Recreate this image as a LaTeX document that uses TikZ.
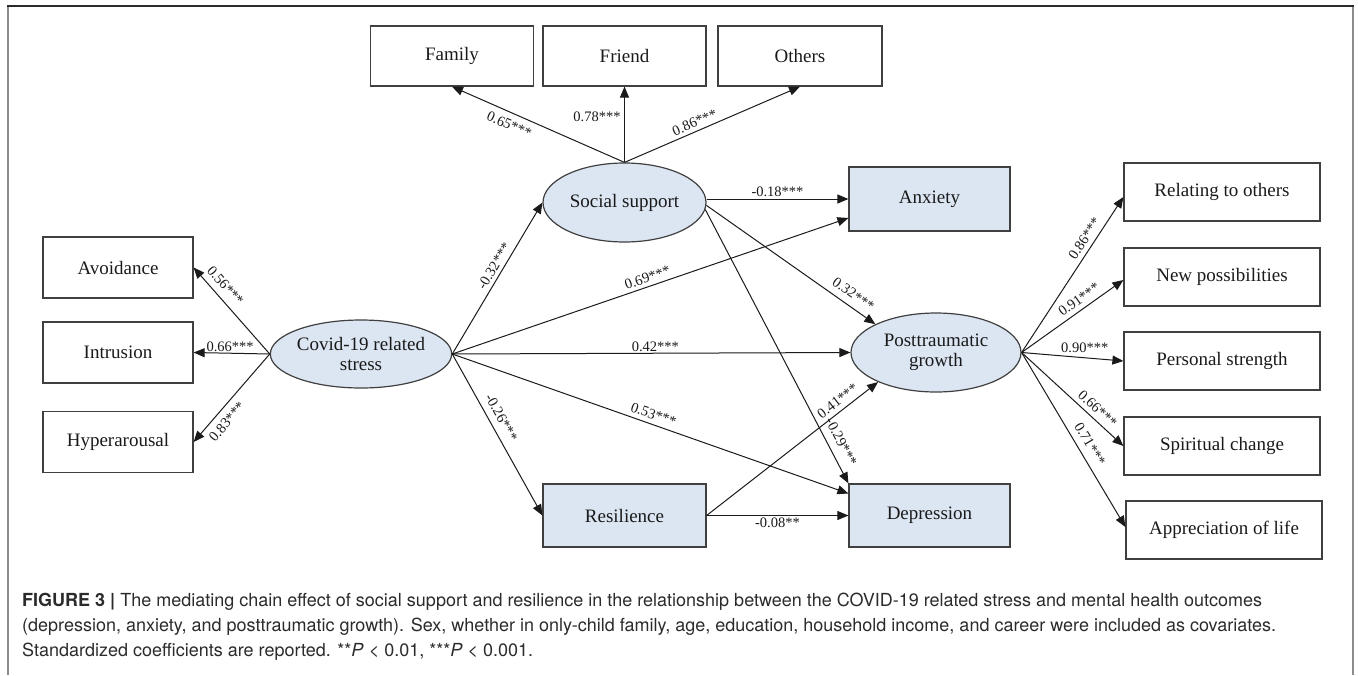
\documentclass[tikz,border=0pt]{standalone}
\usepackage{fontspec}
\setmainfont{Liberation Serif}
\newfontfamily\capfont{TeX Gyre Heros}
\usetikzlibrary{arrows.meta,shapes.geometric}
\definecolor{boxblue}{HTML}{DCE6F3}
\definecolor{ink}{HTML}{1A1A1A}
\definecolor{boxline}{HTML}{404040}
\definecolor{capgray}{HTML}{2B2B2B}
\definecolor{framegray}{HTML}{8C8C8C}
\begin{document}
\begin{tikzpicture}[x=1pt,y=-1pt,
  obs/.style={rectangle,draw=boxline,line width=1.2pt,inner sep=0pt,
    font=\fontsize{19}{22}\selectfont,text=ink},
  lat/.style={ellipse,draw=boxline,line width=1.2pt,fill=boxblue,inner sep=0pt,
    align=center,font=\fontsize{19}{22}\selectfont,text=ink},
  arr/.style={-{Triangle[length=11pt,width=9pt]},line width=1pt,draw=ink},
  coef/.style={font=\fontsize{14.5}{16}\selectfont,text=ink,inner sep=1.5pt}]
\useasboundingbox (0,0) rectangle (1358,675);
% frame
\draw[framegray,line width=2.2pt] (8,6) -- (8,675);
\draw[framegray,line width=2.2pt] (1353,6) -- (1353,675);
\draw[capgray,line width=1.6pt] (7,6) -- (1354,6);

% top indicator boxes
\node[obs,minimum width=163,minimum height=60] (family) at (452,56) {Family};
\node[obs,minimum width=163,minimum height=60] (friend) at (624.5,56) {Friend};
\node[obs,minimum width=164,minimum height=60] (others) at (800,56) {Others};

% latent
\node[lat,minimum width=163,minimum height=79] (social) at (624.5,202.5) {Social support};
\node[lat,minimum width=172,minimum height=68] (covid) at (361,354) {Covid-19 related\\[-2pt]stress};
\node[lat,minimum width=170,minimum height=79] (ptg) at (936,352.5) {Posttraumatic\\[-2pt]growth};

% left boxes
\node[obs,minimum width=150,minimum height=61] (avoid) at (118,267.5) {Avoidance};
\node[obs,minimum width=150,minimum height=61] (intru) at (118,352.5) {Intrusion};
\node[obs,minimum width=150,minimum height=61] (hyper) at (118,442) {Hyperarousal};

% mediators / outcomes
\node[obs,fill=boxblue,minimum width=161,minimum height=64] (anx) at (929.5,199) {Anxiety};
\node[obs,fill=boxblue,minimum width=163,minimum height=63] (resil) at (624.5,515.5) {Resilience};
\node[obs,fill=boxblue,minimum width=161,minimum height=63] (depr) at (929.5,515.5) {Depression};

% right boxes
\node[obs,minimum width=196,minimum height=58] (rel) at (1222,192) {Relating to others};
\node[obs,minimum width=196,minimum height=58] (newp) at (1222,277) {New possibilities};
\node[obs,minimum width=196,minimum height=58] (pers) at (1222,361) {Personal strength};
\node[obs,minimum width=196,minimum height=58] (spir) at (1222,446) {Spiritual change};
\node[obs,minimum width=196,minimum height=58] (appr) at (1224,530) {Appreciation of life};

% social support indicators
\draw[arr] (social.north) -- node[coef,pos=0.64,sloped,below=5pt] {0.65***} (family.south);
\draw[arr] (social.north) -- node[coef,pos=0.6,left=2pt] {0.78***} (friend.south);
\draw[arr] (social.north) -- node[coef,pos=0.42,sloped,above=2pt] {0.86***} (others.south);

% covid indicators
\draw[arr] (covid.west) -- node[coef,pos=0.7,sloped,above=5pt] {0.56***} (avoid.east);
\draw[arr] (covid.west) -- node[coef,pos=0.52,above] {0.66***} (intru.east);
\draw[arr] (covid.west) -- node[coef,pos=0.68,sloped,below=5pt] {0.83***} (hyper.east);

% covid paths
\draw[arr] (covid.east) -- node[coef,pos=0.55,sloped,above=2pt] {-0.32***} (social.west);
\draw[arr] (covid.east) -- node[coef,pos=0.5,sloped,above=2pt] {0.69***} ([yshift=-19pt]anx.west);
\draw[arr] (covid.east) -- node[coef,pos=0.51,above] {0.42***} (ptg.west);
\draw[arr] (covid.east) -- node[coef,pos=0.5,sloped,above=3pt] {0.53***} ([yshift=22pt]depr.west);
\draw[arr] (covid.east) -- node[coef,pos=0.43,sloped,above=5pt] {-0.26***} (resil.west);

% social paths
\draw[arr] (social.east |- anx.west) -- node[coef,pos=0.5,above] {-0.18***} (anx.west);
\draw[arr] (social.-2) -- node[coef,pos=0.83,sloped,above=5pt] {0.32***} (ptg.155);
\draw[arr] (social.-5) -- node[coef,pos=0.87,sloped,above=6pt] {-0.29***} (depr.north west);

% resilience paths
\draw[arr] (resil.east) -- node[coef,pos=0.8,sloped,above=3pt] {0.41***} (ptg.207);
\draw[arr] (resil.east) -- node[coef,pos=0.5,below] {-0.08**} (depr.west);

% PTG indicators
\draw[arr] (ptg.east) -- node[coef,pos=0.7,sloped,above=3pt] {0.86***} ([yshift=-5pt]rel.west);
\draw[arr] (ptg.east) -- node[coef,pos=0.62,sloped,above=3pt] {0.91***} ([yshift=-3pt]newp.west);
\draw[arr] (ptg.east) -- node[coef,pos=0.62,above=3pt] {0.90***} (pers.west);
\draw[arr] (ptg.east) -- node[coef,pos=0.68,sloped,above=3pt] {0.66***} (spir.west);
\draw[arr] (ptg.east) -- node[coef,pos=0.56,sloped,above=5pt] {0.71***} ([yshift=3pt]appr.west);

% caption
\node[anchor=north west,align=left,inner sep=0pt,text=capgray,
  font=\capfont\fontsize{18}{25}\selectfont] (cap) at (22,593)
  {\textbf{FIGURE 3 |} The mediating chain effect of social support and resilience in the relationship between the COVID-19 related stress and mental health outcomes\\
  (depression, anxiety, and posttraumatic growth). Sex, whether in only-child family, age, education, household income, and career were included as covariates.\\
  Standardized coefficients are reported. **\textit{P} < 0.01, ***\textit{P} < 0.001.};
\end{tikzpicture}
\end{document}
